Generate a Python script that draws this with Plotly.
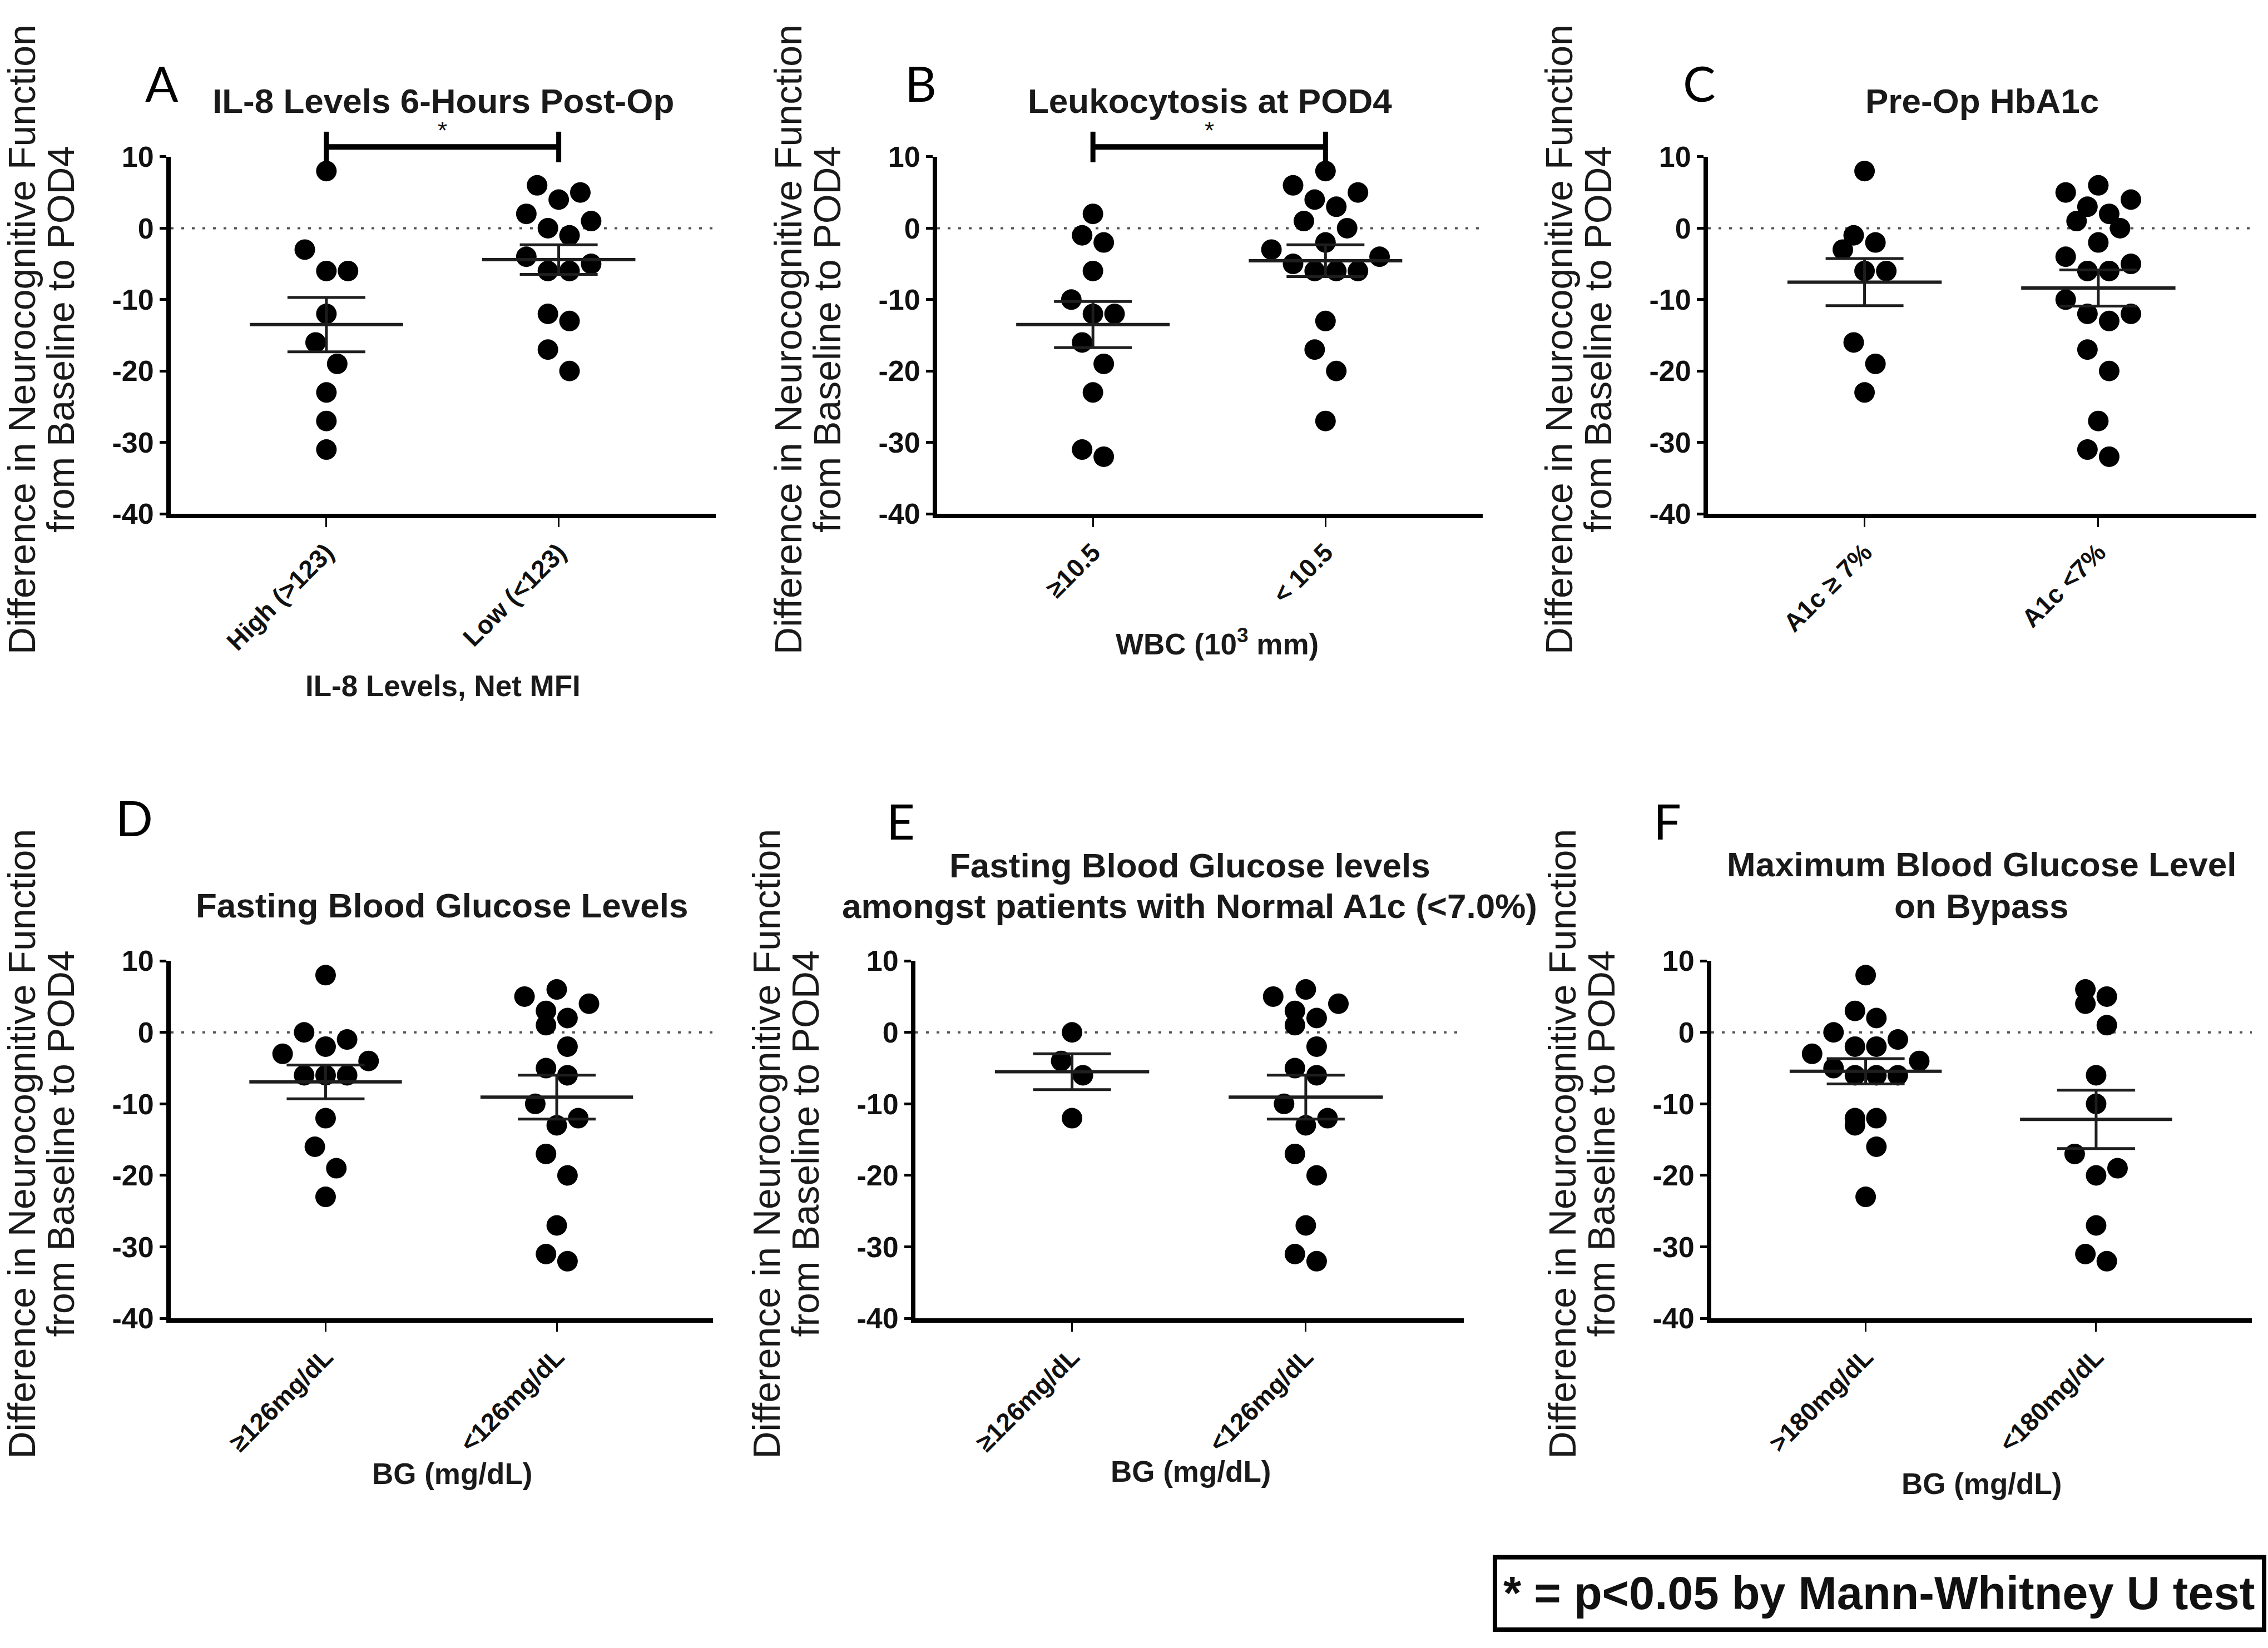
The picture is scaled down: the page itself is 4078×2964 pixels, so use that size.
import numpy as np
import plotly.graph_objects as go

# ---------------- data ----------------
y_tick_vals = [10, 0, -10, -20, -30, -40]
y_tick_text = ["10", "0", "-10", "-20", "-30", "-40"]

a_categories = ["High (>123)", "Low (<123)"]
a_high = [8, -3, -6, -6, -12, -16, -19, -23, -27, -31]
a_low = [6, 5, 4, 2, 1, 0, -1, -4, -5, -6, -6, -12, -13, -17, -20]

b_categories = ["\u226510.5", "< 10.5"]
b_high = [2, -1, -2, -6, -10, -12, -12, -16, -19, -23, -31, -32]
b_low = [8, 6, 5, 4, 3, 1, 0, -2, -3, -4, -5, -6, -6, -6, -13, -17, -20, -27]

c_categories = ["A1c \u2265 7%", "A1c <7%"]
c_high = [8, -1, -2, -3, -6, -6, -16, -19, -23]
c_low = [6, 5, 4, 3, 2, 1, 0, -2, -4, -5, -6, -6, -10, -12, -12, -13, -17, -20, -27, -31, -32]

d_categories = ["\u2265126mg/dL", "<126mg/dL"]
d_high = [8, 0, -1, -2, -3, -4, -6, -6, -6, -12, -16, -19, -23]
d_low = [6, 5, 4, 3, 2, 1, -2, -5, -6, -10, -12, -13, -17, -20, -27, -31, -32]

e_categories = ["\u2265126mg/dL", "<126mg/dL"]
e_high = [0, -4, -6, -12]
e_low = [6, 5, 4, 3, 2, 1, -2, -5, -6, -10, -12, -13, -17, -20, -27, -31, -32]

f_categories = [">180mg/dL", "<180mg/dL"]
f_high = [8, 3, 2, 0, -1, -2, -2, -3, -4, -5, -6, -6, -6, -12, -12, -13, -16, -23]
f_low = [6, 5, 4, 1, -6, -10, -17, -19, -20, -27, -31, -32]

panel_letters = ["A", "B", "C", "D", "E", "F"]
panel_titles = [
    ["IL-8 Levels 6-Hours Post-Op"],
    ["Leukocytosis at POD4"],
    ["Pre-Op HbA1c"],
    ["Fasting Blood Glucose Levels"],
    ["Fasting Blood Glucose levels", "amongst patients with Normal A1c (<7.0%)"],
    ["Maximum Blood Glucose Level", "on Bypass"],
]
x_titles = ["IL-8 Levels, Net MFI", "WBC (10<sup>3</sup> mm)", "",
            "BG (mg/dL)", "BG (mg/dL)", "BG (mg/dL)"]
significant = [True, True, False, False, False, False]
y_title_lines = ["Difference in Neurocognitive Function", "from Baseline to POD4"]
footnote = "* = p<0.05 by Mann-Whitney U test"

# ---------------- layout geometry (pixels) ----------------
W, H = 4078, 2964
FONT = "Liberation Sans, Arial, Helvetica, sans-serif"
LETTER_FONT = "Lato, Open Sans, sans-serif"
X_RANGE = [-0.67, 1.676]
Y_RANGE = [-40, 10]

# left, right, top, bottom of each plot area
boxes = [
    (307, 1287, 258, 913), (1685, 2666, 258, 913), (3071, 4057, 258, 913),
    (307, 1282, 1733, 2389), (1646, 2632, 1733, 2389), (3077, 4049, 1733, 2389),
]
letter_pos = [(291, 122), (1655, 122), (3055, 122), (241, 1470), (1619, 1476), (2998, 1476)]
title_y = [[156], [156], [156], [1631], [1558, 1632], [1556, 1632]]
xtitle_pos = [(796, 1229), (2188, 1148), None, (813, 2674), (2141, 2670), (3563, 2692)]

groups = [(a_high, a_low, a_categories), (b_high, b_low, b_categories),
          (c_high, c_low, c_categories), (d_high, d_low, d_categories),
          (e_high, e_low, e_categories), (f_high, f_low, f_categories)]


def px(x):
    return x / W


def py(y):
    return 1 - y / H


def beeswarm(values, slot=0.093, span=3):
    """GraphPad-like scatter: points within `span` units share a row, spread symmetrically."""
    vals = sorted(values)
    xs, ys = [], []
    i = 0
    while i < len(vals):
        start = vals[i]
        j = i
        while j < len(vals) and vals[j] <= start + span:
            j += 1
        row = vals[i:j]
        n = len(row)
        offs = [(k - (n - 1) / 2) * slot for k in range(n)]
        order = []
        lo, hi = 0, n - 1
        while lo <= hi:
            order.append(lo)
            if hi != lo:
                order.append(hi)
            lo += 1
            hi -= 1
        for v, p in zip(sorted(row, reverse=True), order):
            xs.append(offs[p])
            ys.append(v)
        i = j
    return xs, ys


fig = go.Figure()
shapes = []
annotations = []
layout_axes = {}

for k in range(6):
    n = k + 1
    xname = "x" if n == 1 else f"x{n}"
    yname = "y" if n == 1 else f"y{n}"
    left, right, top, bottom = boxes[k]
    high, low, cats = groups[k]

    layout_axes["xaxis" if n == 1 else f"xaxis{n}"] = dict(
        domain=[px(left), px(right)], range=X_RANGE, anchor=yname,
        tickvals=[0, 1], ticktext=cats, tickangle=-45,
        showline=True, linewidth=8, linecolor="black",
        ticks="outside", ticklen=16, tickwidth=3, tickcolor="black",
        showgrid=False, zeroline=False, fixedrange=True,
        tickfont=dict(family=FONT, size=46, color="#111", weight="bold"),
    )
    layout_axes["yaxis" if n == 1 else f"yaxis{n}"] = dict(
        domain=[py(bottom), py(top)], range=Y_RANGE, anchor=xname,
        tickvals=y_tick_vals, ticktext=y_tick_text,
        showline=True, linewidth=8, linecolor="black",
        ticks="outside", ticklen=12, tickwidth=5, tickcolor="black",
        showgrid=False, zeroline=False, fixedrange=True,
        tickfont=dict(family=FONT, size=52, color="#111", weight="bold"),
    )

    # dotted zero reference line
    shapes.append(dict(type="line", xref=xname, yref=yname,
                       x0=X_RANGE[0], x1=X_RANGE[1], y0=0, y1=0, layer="below",
                       line=dict(color="#555", width=4, dash="5px,14px")))

    for c, vals in enumerate([high, low]):
        offs, ys = beeswarm(vals)
        fig.add_trace(go.Scatter(
            x=[c + o for o in offs], y=ys, mode="markers", xaxis=xname, yaxis=yname,
            marker=dict(size=37, color="black", line=dict(width=0)),
            cliponaxis=False, hoverinfo="skip", showlegend=False))
        arr = np.array(vals, dtype=float)
        mean = arr.mean()
        sem = arr.std(ddof=1) / np.sqrt(len(arr))
        fig.add_trace(go.Scatter(
            x=[c - 0.33, c + 0.33], y=[mean, mean], mode="lines",
            xaxis=xname, yaxis=yname, line=dict(color="#1e1e1e", width=6),
            hoverinfo="skip", showlegend=False))
        fig.add_trace(go.Scatter(
            x=[c], y=[mean], mode="markers", xaxis=xname, yaxis=yname,
            marker=dict(size=1, color="rgba(0,0,0,0)"),
            error_y=dict(type="data", array=[sem], visible=True,
                         color="#1e1e1e", thickness=5, width=70),
            hoverinfo="skip", showlegend=False))

    # category pixel positions from this axis' scale
    def cat_px(c, left=left, right=right):
        return left + (c - X_RANGE[0]) / (X_RANGE[1] - X_RANGE[0]) * (right - left)

    if significant[k]:
        x0p, x1p = cat_px(0), cat_px(1)
        shapes.append(dict(type="line", xref="paper", yref="paper",
                           x0=px(x0p), x1=px(x1p), y0=py(240), y1=py(240),
                           line=dict(color="black", width=10)))
        for xx in (x0p, x1p):
            shapes.append(dict(type="line", xref="paper", yref="paper",
                               x0=px(xx), x1=px(xx), y0=py(212), y1=py(268),
                               line=dict(color="black", width=9)))
        annotations.append(dict(text="*", x=px(cat_px(0.5)), y=py(210), xref="paper",
                                yref="paper", showarrow=False, xanchor="center",
                                yanchor="middle",
                                font=dict(family=FONT, size=44, color="#111")))

    # panel letter
    lx, ly = letter_pos[k]
    annotations.append(dict(text=panel_letters[k], x=px(lx), y=py(ly), xref="paper",
                            yref="paper", showarrow=False, xanchor="center",
                            yanchor="middle",
                            font=dict(family=LETTER_FONT, size=88, color="black")))
    # title lines
    for line, ty in zip(panel_titles[k], title_y[k]):
        annotations.append(dict(text=line, x=px((left + right) / 2), y=py(ty),
                                xref="paper", yref="paper", showarrow=False,
                                xanchor="center", yanchor="middle",
                                font=dict(family=FONT, size=62, color="#1a1a1a",
                                          weight="bold")))
    # x title
    if xtitle_pos[k] is not None:
        tx, ty = xtitle_pos[k]
        annotations.append(dict(text=x_titles[k], x=px(tx), y=py(ty), xref="paper",
                                yref="paper", showarrow=False, xanchor="center",
                                yanchor="middle",
                                font=dict(family=FONT, size=53, color="#1a1a1a",
                                          weight="bold")))
    # y title (two lines)
    cy = (top + bottom) / 2 + 8
    for line, dx in zip(y_title_lines, (-268, -198)):
        annotations.append(dict(text=line, x=px(left + dx), y=py(cy), xref="paper",
                                yref="paper", showarrow=False, textangle=-90,
                                xanchor="center", yanchor="middle",
                                font=dict(family=FONT, size=68, color="#1a1a1a")))

# footnote box
shapes.append(dict(type="rect", xref="paper", yref="paper",
                   x0=px(2688), x1=px(4071), y0=py(2960), y1=py(2827),
                   line=dict(color="black", width=8), fillcolor="white"))
annotations.append(dict(text=footnote, x=px(3378), y=py(2893), xref="paper", yref="paper",
                        showarrow=False, xanchor="center", yanchor="middle",
                        font=dict(family=FONT, size=83, color="#111", weight="bold")))

fig.update_layout(
    width=W, height=H, autosize=False,
    margin=dict(l=0, r=0, t=0, b=0, pad=0),
    paper_bgcolor="white", plot_bgcolor="white",
    showlegend=False, shapes=shapes, annotations=annotations,
    **layout_axes,
)

fig.write_html("out.html", config={"displayModeBar": False},
               post_script="document.body.style.margin='0';document.body.style.overflow='hidden';")
